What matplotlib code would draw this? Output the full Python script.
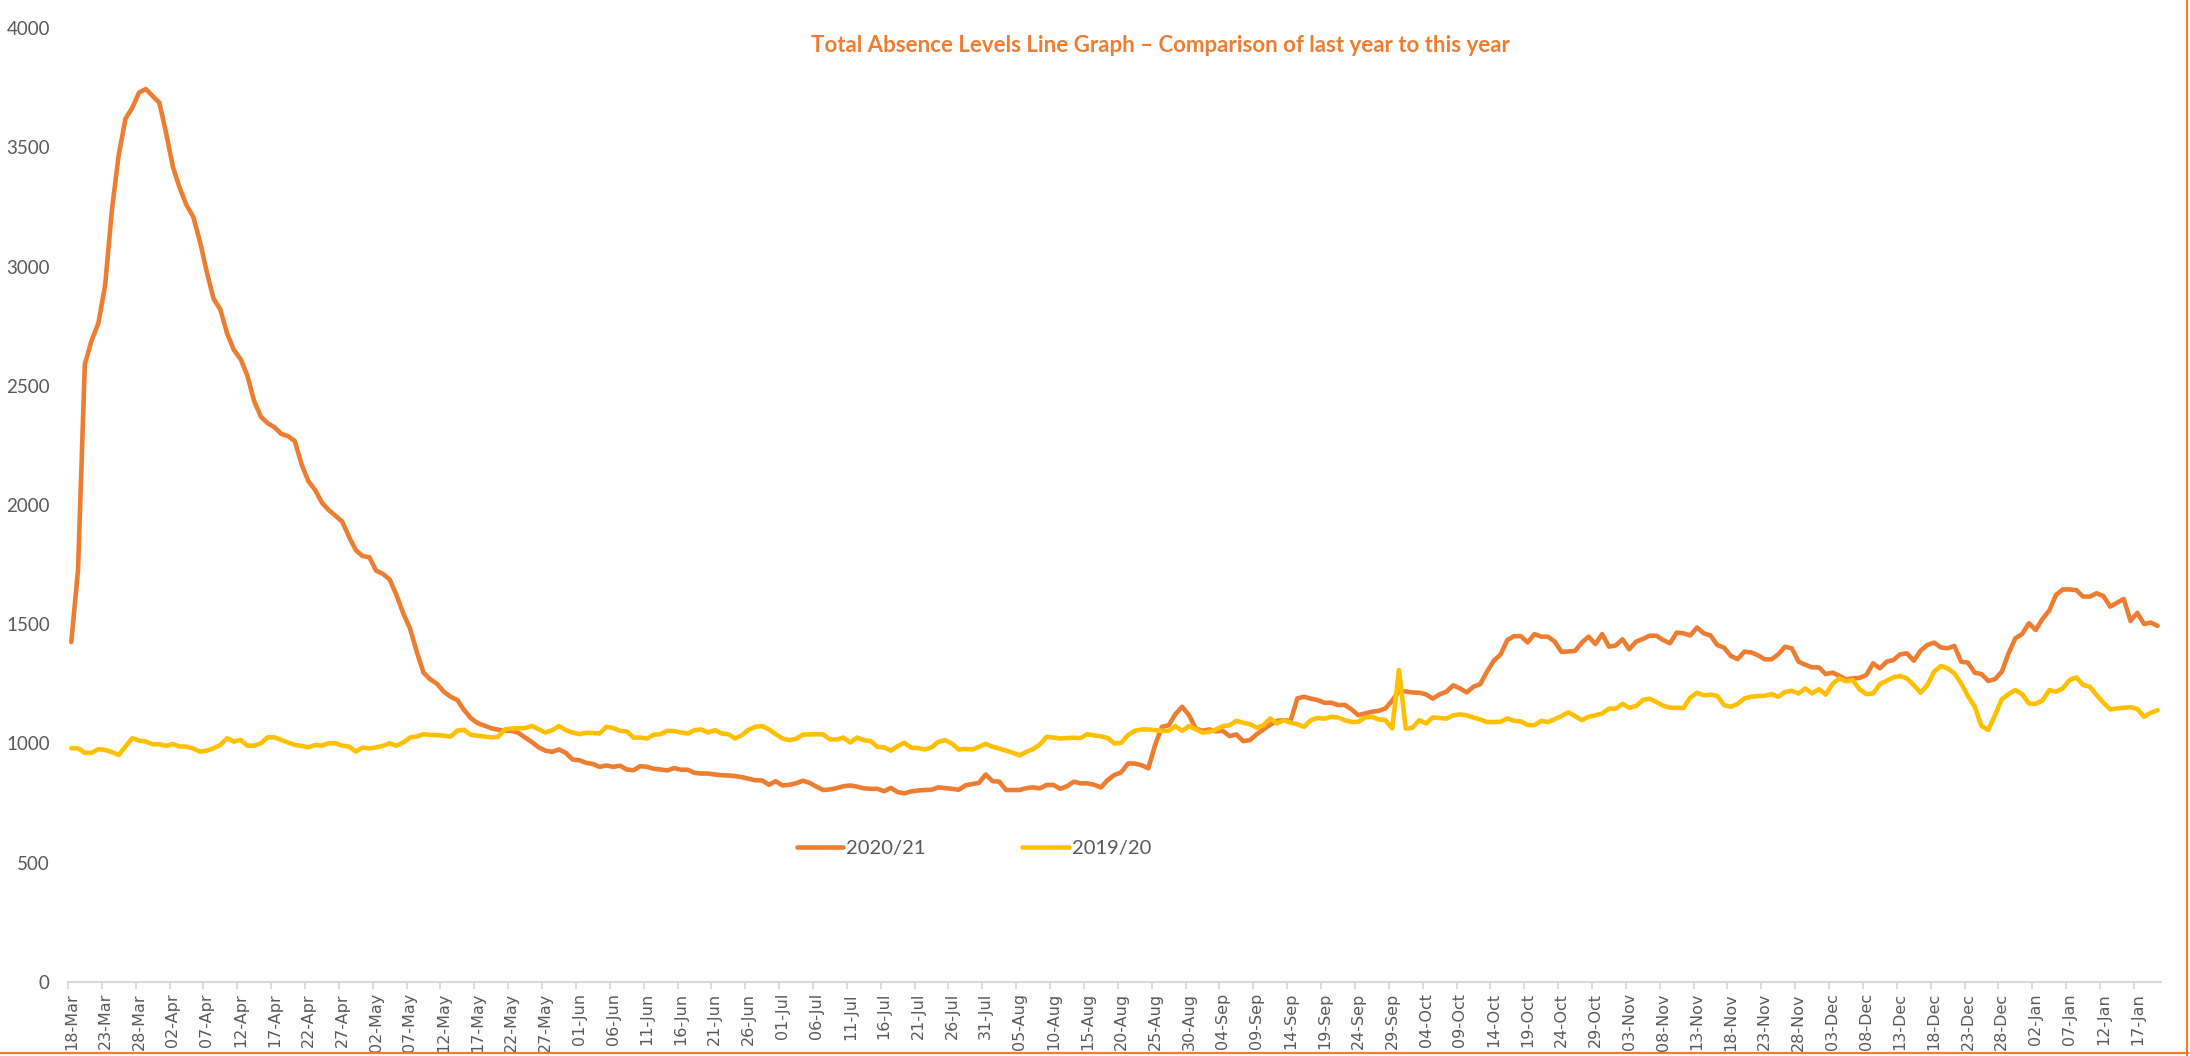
import matplotlib
matplotlib.use("Agg")
import matplotlib.pyplot as plt
from matplotlib.lines import Line2D
import numpy as np
import pandas as pd

# ---------------- data ----------------
start_date = "2020-03-18"
series_names = ["2020/21", "2019/20"]

absence_2020_21 = [
    1425, 1730, 2590, 2690, 2762, 2922, 3237, 3467, 3620, 3665,
    3729, 3744, 3715, 3687, 3560, 3418, 3330, 3258, 3209, 3104,
    2978, 2865, 2820, 2720, 2650, 2612, 2542, 2435, 2370, 2343,
    2326, 2298, 2289, 2268, 2170, 2100, 2063, 2010, 1979, 1955,
    1930, 1867, 1811, 1786, 1781, 1725, 1711, 1688, 1623, 1546,
    1483, 1385, 1297, 1269, 1250, 1217, 1196, 1182, 1140, 1106,
    1085, 1075, 1064, 1058, 1053, 1053, 1045, 1025, 1006, 984,
    970, 965, 975, 961, 933, 930, 919, 914, 902, 908,
    902, 907, 891, 888, 905, 902, 894, 891, 887, 897,
    890, 890, 877, 874, 874, 870, 867, 866, 863, 859,
    852, 846, 845, 827, 842, 824, 827, 833, 844, 835,
    819, 805, 807, 813, 821, 824, 819, 812, 810, 810,
    800, 814, 796, 791, 799, 803, 805, 806, 816, 813,
    810, 806, 824, 830, 835, 870, 842, 840, 805, 805,
    805, 813, 816, 812, 826, 826, 810, 821, 840, 833,
    833, 827, 816, 847, 868, 879, 916, 916, 909, 896,
    993, 1070, 1076, 1123, 1154, 1119, 1063, 1053, 1059, 1051,
    1053, 1031, 1038, 1010, 1014, 1039, 1059, 1079, 1095, 1098,
    1095, 1189, 1196, 1188, 1182, 1171, 1171, 1161, 1162, 1143,
    1119, 1126, 1133, 1137, 1147, 1180, 1220, 1218, 1214, 1213,
    1206, 1188, 1206, 1217, 1244, 1231, 1214, 1238, 1249, 1301,
    1347, 1373, 1434, 1450, 1450, 1424, 1459, 1448, 1448, 1427,
    1384, 1386, 1388, 1423, 1448, 1417, 1459, 1406, 1411, 1437,
    1395, 1427, 1438, 1452, 1452, 1434, 1420, 1465, 1462, 1453,
    1486, 1462, 1453, 1413, 1402, 1367, 1354, 1385, 1382, 1370,
    1353, 1353, 1374, 1406, 1399, 1343, 1330, 1319, 1319, 1291,
    1297, 1284, 1269, 1273, 1275, 1287, 1336, 1315, 1343, 1350,
    1374, 1378, 1347, 1389, 1413, 1423, 1403, 1399, 1409, 1343,
    1339, 1297, 1291, 1262, 1270, 1301, 1378, 1441, 1459, 1504,
    1476, 1522, 1557, 1623, 1646, 1646, 1643, 1616, 1616, 1630,
    1618, 1574, 1590, 1606, 1514, 1548, 1501, 1507, 1493,
]

absence_2019_20 = [
    980, 980, 961, 961, 976, 973, 964, 952, 987, 1022,
    1012, 1008, 997, 997, 990, 998, 987, 987, 979, 966,
    970, 980, 994, 1022, 1008, 1015, 991, 991, 1001, 1026,
    1026, 1015, 1004, 994, 990, 984, 994, 991, 1001, 1001,
    991, 987, 966, 983, 979, 984, 990, 1001, 991, 1004,
    1025, 1029, 1039, 1036, 1035, 1033, 1029, 1054, 1057, 1036,
    1033, 1029, 1026, 1028, 1059, 1063, 1064, 1065, 1074, 1060,
    1046, 1056, 1073, 1056, 1046, 1039, 1045, 1044, 1042, 1070,
    1065, 1053, 1051, 1025, 1025, 1021, 1037, 1039, 1053, 1052,
    1046, 1042, 1056, 1059, 1046, 1056, 1042, 1039, 1021, 1035,
    1058, 1070, 1073, 1059, 1039, 1021, 1014, 1020, 1037, 1038,
    1039, 1038, 1017, 1017, 1025, 1004, 1025, 1014, 1010, 986,
    984, 970, 989, 1003, 982, 981, 975, 984, 1007, 1014,
    1000, 975, 977, 975, 986, 999, 986, 979, 970, 961,
    950, 965, 977, 996, 1028, 1025, 1021, 1023, 1024, 1023,
    1039, 1034, 1030, 1023, 1000, 1003, 1035, 1053, 1059, 1059,
    1056, 1053, 1053, 1073, 1053, 1073, 1060, 1046, 1049, 1059,
    1073, 1076, 1095, 1087, 1081, 1066, 1077, 1105, 1084, 1098,
    1087, 1081, 1070, 1098, 1107, 1104, 1112, 1109, 1098, 1090,
    1091, 1109, 1112, 1101, 1098, 1063, 1308, 1063, 1066, 1098,
    1084, 1109, 1107, 1104, 1118, 1122, 1118, 1109, 1101, 1090,
    1090, 1091, 1105, 1095, 1093, 1077, 1077, 1095, 1090, 1102,
    1115, 1131, 1115, 1098, 1112, 1118, 1126, 1146, 1146, 1166,
    1150, 1157, 1182, 1188, 1174, 1159, 1150, 1150, 1149, 1192,
    1213, 1202, 1205, 1199, 1161, 1154, 1166, 1189, 1196, 1199,
    1200, 1207, 1196, 1216, 1221, 1210, 1231, 1210, 1228, 1205,
    1249, 1273, 1261, 1266, 1227, 1207, 1210, 1249, 1263, 1277,
    1283, 1273, 1245, 1213, 1245, 1301, 1325, 1315, 1294, 1252,
    1199, 1154, 1073, 1057, 1119, 1186, 1207, 1224, 1207, 1168,
    1166, 1180, 1224, 1217, 1231, 1266, 1277, 1245, 1238, 1203,
    1171, 1143, 1147, 1150, 1152, 1145, 1112, 1129, 1140,
]

n_days = len(absence_2020_21)
dates = pd.date_range(start_date, periods=n_days, freq="D")
date_labels = [d.strftime("%d-%b") for d in dates]
y_ticks = [0, 500, 1000, 1500, 2000, 2500, 3000, 3500, 4000]

title_text = "Total Absence Levels Line Graph \u2013 Comparison of last year to this year"

# ---------------- style ----------------
ORANGE = "#ED7D31"
GOLD = "#FFC000"
GREY_TXT = "#595959"
GREY_AX = "#D9D9D9"

W, H = 2190, 1056
fig = plt.figure(figsize=(W / 100, H / 100), dpi=100)
fig.patch.set_facecolor("white")

left_px, right_px, bottom_px, top_px = 67.9, 2161, 982, 28
ax = fig.add_axes([left_px / W, 1 - bottom_px / H,
                   (right_px - left_px) / W, (bottom_px - top_px) / H])

x = np.arange(n_days)
l1, = ax.plot(x, absence_2020_21, color=ORANGE, lw=3.3, solid_joinstyle="round",
              solid_capstyle="round", label=series_names[0], zorder=3)
l2, = ax.plot(x, absence_2019_20, color=GOLD, lw=3.3, solid_joinstyle="round",
              solid_capstyle="round", label=series_names[1], zorder=4)

ax.set_xlim(-0.5, n_days - 0.5)
ax.set_ylim(0, 4000)

for s in ["left", "right", "top"]:
    ax.spines[s].set_visible(False)
ax.spines["bottom"].set_color(GREY_AX)
ax.spines["bottom"].set_linewidth(1.5)

ax.set_yticks(y_ticks)
ax.set_yticklabels([str(v) for v in y_ticks], family="Lato", fontsize=13.5, color=GREY_TXT)
ax.tick_params(axis="y", length=0, pad=13)

label_idx = np.arange(0, n_days, 5)
ax.set_xticks(label_idx)
ax.set_xticklabels([date_labels[i] for i in label_idx], rotation=90,
                   family="DejaVu Sans", fontsize=11.5, color=GREY_TXT)
ax.tick_params(axis="x", which="major", length=0, pad=8)
ax.set_xticks(label_idx - 0.5, minor=True)
ax.tick_params(axis="x", which="minor", length=5, width=1.3, color=GREY_AX, direction="out")
for lbl in ax.get_xticklabels():
    lbl.set_va("top")

# title
fig.text(1160 / W, 1 - 46 / H, title_text, ha="center", va="center",
         family="Lato", fontweight="bold", fontsize=16, color=ORANGE)

# legend
fig.legend(handles=[l1, l2], labels=series_names, loc="center",
           bbox_to_anchor=(974 / W, 1 - 848 / H), ncol=2, frameon=False,
           prop={"family": "Lato", "size": 14.5}, labelcolor=GREY_TXT,
           handlelength=2.3, handletextpad=0.15, columnspacing=4.8)

# chart border remnants (right and bottom orange edges)
fig.add_artist(Line2D([2187 / W, 2187 / W], [0, 1], transform=fig.transFigure,
                      color=ORANGE, lw=1.6))
fig.add_artist(Line2D([0, 2188 / W], [3 / H, 3 / H], transform=fig.transFigure,
                      color=ORANGE, lw=1.6))

fig.savefig("out.png", dpi=100, facecolor="white")
